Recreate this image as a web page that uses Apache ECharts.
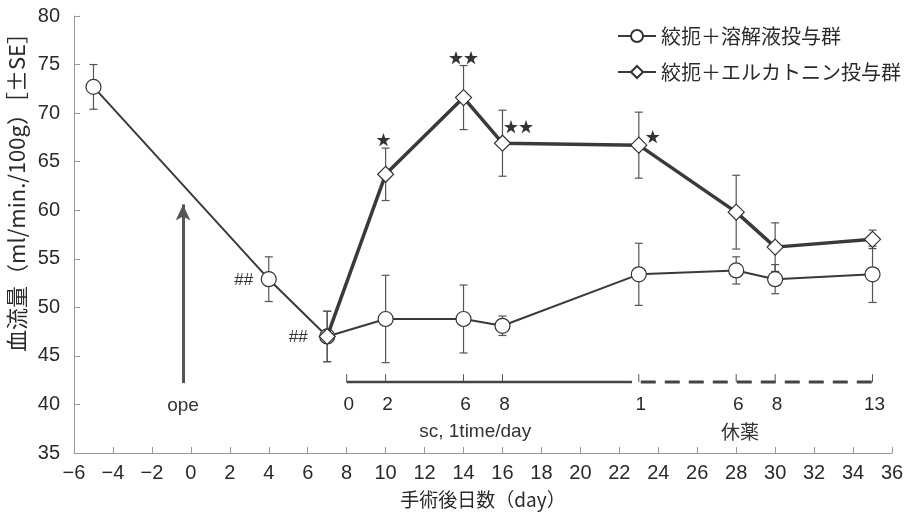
<!DOCTYPE html>
<html>
<head>
<meta charset="utf-8">
<script src="https://cdn.jsdelivr.net/npm/echarts@6/dist/echarts.min.js"></script>
<style>
  html, body { margin: 0; padding: 0; background: #fff; }
  #chart { width: 909px; height: 517px; }
</style>
</head>
<body>
<div id="chart"></div>
<script>
// Blood flow after surgery (days), mean ± SE
const vehicleName = '絞扼＋溶解液投与群';
const elcatoninName = '絞扼＋エルカトニン投与群';

const vehicleDays = [-5, 4, 7, 10, 14, 16, 23, 28, 30, 35];
const vehicleMean = [72.7, 52.9, 47.0, 48.8, 48.8, 48.1, 53.4, 53.8, 52.9, 53.4];
const vehicleSE   = [2.3, 2.3, 2.6, 4.5, 3.5, 1.0, 3.2, 1.4, 1.5, 2.9];
const vehicleMarks = ['', '##', '##', '', '', '', '', '', '', ''];

const elcatoninDays = [7, 10, 14, 16, 23, 28, 30, 35];
const elcatoninMean = [47.0, 63.7, 71.6, 66.9, 66.7, 59.8, 56.2, 57.0];
const elcatoninSE   = [2.6, 2.7, 3.3, 3.4, 3.4, 3.8, 2.5, 0.95];
const elcatoninMarks = ['', '★', '★★', '★★', '★', '', '', ''];

// Dosing schedule: day counters and the post-op day each falls on
const dosingLabels = ['0', '2', '6', '8'];
const dosingAt     = [8, 10, 14, 16];
const washoutLabels = ['1', '6', '8', '13'];
const washoutAt     = [23, 28, 30, 35];

const yTicks = { min: 35, max: 80, step: 5 };
const xTicks = { min: -6, max: 36, step: 2 };

const LINE = '#3a3a3a';
const BAR = '#555';
const TEXT = '#2a2a2a';
const FONT_NUM = '"Liberation Sans", Arial, sans-serif';
const FONT_JP = '"Noto Sans CJK JP", sans-serif';

const pairs = (xs, ys) => xs.map((x, i) => [x, ys[i]]);
const errRows = (xs, ys, es) => xs.map((x, i) => [x, ys[i], es[i]]);

// Vertical error bar with caps
function errorBar(params, api) {
  const x = api.value(0), m = api.value(1), e = api.value(2);
  const top = api.coord([x, m + e]);
  const bot = api.coord([x, m - e]);
  const w = 4;
  const st = { stroke: BAR, lineWidth: 1.2 };
  return {
    type: 'group',
    children: [
      { type: 'line', shape: { x1: top[0], y1: top[1], x2: bot[0], y2: bot[1] }, style: st },
      { type: 'line', shape: { x1: top[0] - w, y1: top[1], x2: top[0] + w, y2: top[1] }, style: st },
      { type: 'line', shape: { x1: bot[0] - w, y1: bot[1], x2: bot[0] + w, y2: bot[1] }, style: st }
    ]
  };
}

const scheduleLevel = 42.3;

// Tick marks and day counters on the schedule bar
function scheduleTicks(params, api) {
  const p = api.coord([api.value(0), scheduleLevel]);
  const label = api.value(1);
  return {
    type: 'group',
    children: [
      { type: 'line', shape: { x1: p[0], y1: p[1], x2: p[0], y2: p[1] - 8 }, style: { stroke: '#555', lineWidth: 1 } },
      { type: 'text', x: p[0] + 2, y: p[1] + 23, style: { text: String(label), fill: TEXT, font: '19px ' + FONT_NUM, align: 'center', verticalAlign: 'middle' } }
    ]
  };
}

function textLayer(items) {
  return function (params, api) {
    const it = items[params.dataIndex];
    const p = api.coord([api.value(0), api.value(1)]);
    return {
      type: 'text', x: p[0] + (it.dx || 0), y: p[1] + (it.dy || 0),
      style: { text: it.text, fill: '#333', font: it.font, align: 'center', verticalAlign: 'middle' }
    };
  };
}

// Significance marks positioned next to the points
const markOffsets = {
  vehicle: [null, { dx: -25, dy: 1 }, { dx: -29, dy: 1 }],
  elcatonin: [null, { dx: -2, dy: -35 }, { dx: 0, dy: -40 }, { dx: 16, dy: -17 }, { dx: 14, dy: -9 }]
};
const sigItems = [];
vehicleMarks.forEach((t, i) => {
  if (t) sigItems.push({ x: vehicleDays[i], y: vehicleMean[i], text: t, dx: markOffsets.vehicle[i].dx, dy: markOffsets.vehicle[i].dy, font: '17px ' + FONT_NUM });
});
elcatoninMarks.forEach((t, i) => {
  if (t) sigItems.push({ x: elcatoninDays[i], y: elcatoninMean[i], text: t, dx: markOffsets.elcatonin[i].dx, dy: markOffsets.elcatonin[i].dy, font: '15px ' + FONT_JP });
});

const textItems = [
  { x: -0.4, y: 39.9, text: 'ope', font: '19px ' + FONT_NUM },
  { x: 14.6, y: 37.2, text: 'sc, 1time/day', font: '19px ' + FONT_NUM },
  { x: 28.2, y: 37.2, text: '休薬', font: '19px ' + FONT_JP }
];

const chart = echarts.init(document.getElementById('chart'));
chart.setOption({
  animation: false,
  backgroundColor: '#fff',
  grid: { left: 74, right: 17, top: 16, bottom: 64 },
  legend: {
    orient: 'vertical',
    left: 612,
    top: 21,
    itemWidth: 38,
    itemHeight: 15,
    itemGap: 16,
    data: [vehicleName, elcatoninName],
    textStyle: { fontSize: 20, color: TEXT, fontFamily: FONT_JP }
  },
  xAxis: {
    type: 'value',
    min: xTicks.min, max: xTicks.max, interval: xTicks.step,
    name: '手術後日数（day）',
    nameLocation: 'middle',
    nameGap: 37,
    nameTextStyle: { fontSize: 19, color: TEXT, fontFamily: FONT_JP },
    axisLine: { onZero: false, lineStyle: { color: '#999', width: 1 } },
    axisTick: { inside: true, length: 6, lineStyle: { color: '#999' } },
    axisLabel: {
      fontSize: 20, color: TEXT, margin: 10,
      fontFamily: '"Liberation Sans Narrow", "Liberation Sans", Arial, sans-serif',
      formatter: v => String(v).replace('-', '−')
    },
    splitLine: { show: false }
  },
  yAxis: {
    type: 'value',
    min: yTicks.min, max: yTicks.max, interval: yTicks.step,
    axisLine: { show: true, onZero: false, lineStyle: { color: '#999', width: 1 } },
    axisTick: { show: true, inside: true, length: 6, lineStyle: { color: '#999' } },
    axisLabel: { fontSize: 20, color: TEXT, margin: 14, fontFamily: FONT_NUM },
    splitLine: { show: false }
  },
  graphic: [{
    type: 'text',
    left: 6,
    top: 22,
    rotation: Math.PI / 2,
    style: {
      text: '血流量（ml/min./100g）［±SE］',
      fill: TEXT,
      font: '22px ' + FONT_JP
    }
  }],
  series: [
    {
      type: 'custom', name: 'vehicle-se', renderItem: errorBar,
      data: errRows(vehicleDays, vehicleMean, vehicleSE), z: 1, silent: true
    },
    {
      type: 'custom', name: 'elcatonin-se', renderItem: errorBar,
      data: errRows(elcatoninDays, elcatoninMean, elcatoninSE), z: 1, silent: true
    },
    {
      type: 'line', name: vehicleName,
      data: pairs(vehicleDays, vehicleMean),
      symbol: 'circle', symbolSize: 15,
      lineStyle: { color: LINE, width: 2 },
      itemStyle: { color: '#fff', borderColor: '#333', borderWidth: 1.2 },
      z: 3
    },
    {
      type: 'line', name: elcatoninName,
      data: pairs(elcatoninDays, elcatoninMean),
      symbol: 'diamond', symbolSize: 16,
      lineStyle: { color: LINE, width: 3.5 },
      itemStyle: { color: '#fff', borderColor: '#333', borderWidth: 1.2 },
      z: 4
    },
    {
      // dosing period (solid) and the surgery arrow
      type: 'line', name: 'dosing',
      data: [[dosingAt[0], scheduleLevel], [washoutAt[0] - 0.35, scheduleLevel]],
      symbol: 'none', silent: true,
      lineStyle: { color: '#444', width: 2.5 },
      markLine: {
        silent: true,
        symbol: ['none', 'arrow'],
        symbolSize: [11, 16],
        label: { show: false },
        lineStyle: { color: '#555', width: 3, type: 'solid' },
        data: [[{ coord: [-0.4, 42.2] }, { coord: [-0.4, 60.6] }]]
      }
    },
    {
      // washout period (dashed)
      type: 'line', name: 'washout',
      data: [[washoutAt[0] + 0.1, scheduleLevel], [washoutAt[washoutAt.length - 1] + 0.2, scheduleLevel]],
      symbol: 'none', silent: true,
      lineStyle: { color: '#444', width: 3, type: [15, 9] }
    },
    {
      type: 'custom', name: 'schedule-ticks', renderItem: scheduleTicks, silent: true,
      data: dosingAt.map((d, i) => [d, dosingLabels[i]]).concat(washoutAt.map((d, i) => [d, washoutLabels[i]]))
    },
    {
      type: 'custom', name: 'sig-marks', renderItem: textLayer(sigItems), silent: true,
      data: sigItems.map(s => [s.x, s.y]), z: 5
    },
    {
      type: 'custom', name: 'notes', renderItem: textLayer(textItems), silent: true,
      data: textItems.map(s => [s.x, s.y])
    }
  ]
});
</script>
</body>
</html>
